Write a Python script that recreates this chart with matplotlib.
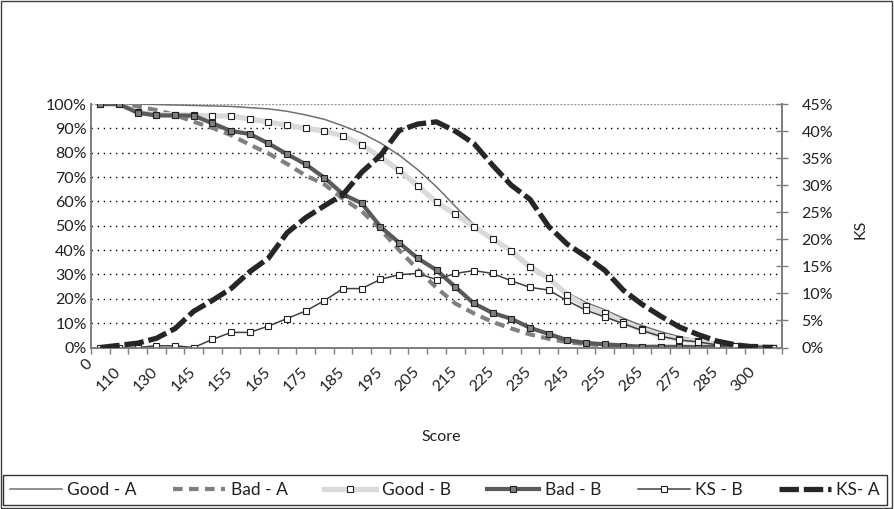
import matplotlib
matplotlib.use("Agg")
import matplotlib.pyplot as plt
from matplotlib.patches import Rectangle
from matplotlib.transforms import ScaledTranslation

plt.rcParams['font.family'] = ['Lato', 'DejaVu Sans']
plt.rcParams['lines.scale_dashes'] = False

# score buckets (only every other one is labelled on the axis)
score = [0, 100, 110, 120, 130, 140, 145, 150, 155, 160, 165, 170, 175, 180,
         185, 190, 195, 200, 205, 210, 215, 220, 225, 230, 235, 240, 245, 250,
         255, 260, 265, 270, 275, 280, 285, 290, 300]

# cumulative distributions (%) - left axis
good_a = [100, 100, 100, 99.8, 99.6, 99.4, 99.2, 99.0, 98.5, 98.0, 97.0, 95.5,
          93.7, 91.0, 88.0, 84.0, 79.0, 73.0, 66.0, 58.0, 50.5, 44.6, 40.0,
          34.0, 29.0, 22.5, 18.5, 15.5, 12.0, 9.0, 6.5, 4.5, 3.0, 2.0, 1.0,
          0.4, 0.0]
bad_a = [100, 100, 99.0, 97.5, 95.5, 92.7, 90.2, 87.2, 83.3, 79.7, 75.4, 70.6,
         67.0, 61.0, 56.0, 48.5, 40.0, 32.0, 24.5, 18.1, 14.0, 10.5, 7.8, 5.4,
         3.6, 2.2, 1.4, 0.9, 0.5, 0.3, 0.2, 0.1, 0.1, 0.0, 0.0, 0.0, 0.0]
good_b = [100, 100, 96.6, 95.6, 95.6, 95.4, 95.1, 95.1, 93.8, 92.6, 91.3, 90.0,
          88.9, 86.9, 83.2, 78.2, 72.7, 66.4, 59.6, 54.7, 49.6, 44.6, 39.7,
          32.9, 28.6, 21.6, 17.0, 14.2, 10.3, 7.4, 4.9, 3.3, 2.5, 1.2, 0.8,
          0.3, 0.0]
bad_b = [100, 100, 96.4, 95.3, 95.3, 95.2, 92.1, 88.9, 87.7, 83.8, 79.4, 75.2,
         69.7, 62.9, 59.2, 49.6, 43.0, 36.6, 31.8, 24.9, 18.1, 14.2, 11.8, 8.1,
         5.6, 3.0, 1.9, 1.3, 0.8, 0.3, 0.3, 0.3, 0.2, 0.2, 0.1, 0.0, 0.0]
ks_b = [0, 0, 0, 0.7, 0.7, 0, 3.3, 6.2, 6.2, 8.8, 11.9, 15.0, 19.3, 24.2, 24.2,
        28.0, 29.9, 30.4, 27.9, 30.4, 31.6, 30.4, 27.4, 24.7, 23.6, 19.2, 15.3,
        12.6, 9.8, 7.0, 4.6, 3.1, 2.3, 1.1, 0.6, 0.2, 0.0]

# KS of model A (%) - right axis
ks_a = [0, 0.4, 0.8, 1.7, 3.5, 6.7, 8.7, 10.9, 14.0, 16.5, 21.2, 24.0, 26.2,
        28.3, 32.4, 35.5, 40.1, 41.3, 41.7, 40.0, 37.7, 33.7, 30.0, 27.4, 22.4,
        19.1, 16.8, 14.3, 10.6, 8.0, 5.8, 3.8, 2.4, 1.2, 0.5, 0.1, 0.0]

x = list(range(len(score)))
text_color = '#231f20'
axis_color = '#7f7f7f'

fig = plt.figure(figsize=(8.94, 5.09), dpi=100)
ax = fig.add_axes([91 / 894, 1 - 347.5 / 509, (782 - 91) / 894, (347.5 - 104) / 509])
ax2 = ax.twinx()

l1, = ax.plot(x, good_a, color='#707070', lw=1.1, zorder=3)
l2, = ax.plot(x, bad_a, color='#808080', lw=3.0, dashes=(7, 4.5), zorder=3)
l3, = ax.plot(x, good_b, color='#dadada', lw=3.8, marker='s', ms=5,
              mfc='white', mec='#222222', mew=0.8, zorder=4)
l4, = ax.plot(x, bad_b, color='#5a5a5a', lw=3.0, marker='s', ms=4.5,
              mfc='#808080', mec='#222222', mew=0.8, zorder=5)
l5, = ax.plot(x, ks_b, color='#404040', lw=1.1, marker='s', ms=4.5,
              mfc='white', mec='#222222', mew=0.8, zorder=6)
l6, = ax2.plot(x, ks_a, color='#262626', lw=3.8, dashes=(14, 3.5), zorder=7)

ax.set_xlim(-0.5, len(score) - 0.5)
ax.set_ylim(0, 100)
ax2.set_ylim(0, 45)

# dotted gridlines
for v in range(10, 100, 10):
    ax.axhline(v, color='black', lw=1.0, dashes=(1, 3.4), zorder=1)
ax.axhline(100, color='#9a9a9a', lw=1.0, dashes=(1.5, 1), zorder=1)

ax.set_yticks(range(0, 101, 10))
ax.set_yticklabels([f'{v}%' for v in range(0, 101, 10)])
ax2.set_yticks(range(0, 46, 5))
ax2.set_yticklabels([f'{v}%' for v in range(0, 46, 5)])

ax.set_xticks(x[::2])
ax.set_xticklabels([str(s) for s in score[::2]], rotation=45, ha='right',
                   va='center', rotation_mode='anchor')
ax.set_xticks([i - 0.5 for i in range(len(score) + 1)], minor=True)

ax.tick_params(axis='x', which='major', length=0, pad=16, labelsize=11.5,
               colors=text_color)
ax.tick_params(axis='x', which='minor', length=4, width=1, color=axis_color,
               direction='out')
ax.tick_params(axis='y', length=0, pad=3, labelsize=11.5, colors=text_color)
ax2.tick_params(axis='y', length=8, width=1, direction='inout',
                color=axis_color, pad=10, labelsize=11.5, labelcolor=text_color)

for k, lab in enumerate(ax.get_xticklabels()):
    if k == 0:
        shift = ScaledTranslation(-0.10, 0.08, fig.dpi_scale_trans)
    else:
        shift = ScaledTranslation(-0.19, 0, fig.dpi_scale_trans)
    lab.set_transform(lab.get_transform() + shift)

for a in (ax, ax2):
    a.spines['top'].set_visible(False)
    for s in ('left', 'right', 'bottom'):
        a.spines[s].set_color(axis_color)
        a.spines[s].set_linewidth(1.3)

fig.text(441 / 894, 1 - 437 / 509, 'Score', ha='center', va='center',
         fontsize=11.5, color=text_color)
fig.text(860 / 894, 1 - 229 / 509, 'KS', ha='center', va='center',
         rotation=90, fontsize=11.5, color=text_color)

handles = [l1, l2, l3, l4, l5, l6]
labels = ['Good - A', 'Bad - A', 'Good - B', 'Bad - B', 'KS - B', 'KS- A']
leg = fig.legend(handles, labels, loc='lower left', ncol=6, mode='expand',
                 bbox_to_anchor=(3 / 894, 4 / 509, 884 / 894, 30 / 509),
                 borderaxespad=0, fancybox=False, edgecolor='black',
                 handlelength=3.0, handletextpad=0.3, fontsize=12.5,
                 borderpad=0.4, columnspacing=1.0)
leg.get_frame().set_linewidth(1.0)
for t in leg.get_texts():
    t.set_color(text_color)

# outer chart border
fig.patches.append(Rectangle((0.001, 0.001), 0.997, 0.997, transform=fig.transFigure,
                             fill=False, edgecolor='#404040', lw=1.0))

fig.savefig('out.png', dpi=100)
